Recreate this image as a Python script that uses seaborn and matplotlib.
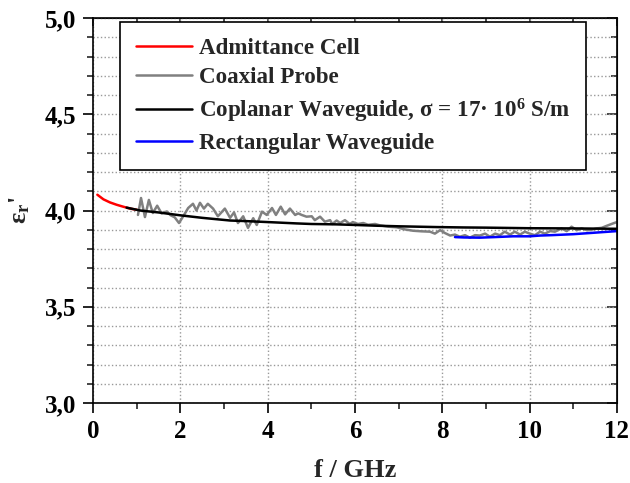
import matplotlib
matplotlib.use("Agg")
import matplotlib.pyplot as plt
import seaborn as sns
import pandas as pd
from matplotlib.ticker import MultipleLocator, FuncFormatter

# Admittance Cell
f_cell = [0.1, 0.24, 0.39, 0.54, 0.69, 0.85, 1.0]
eps_cell = [4.082, 4.058, 4.042, 4.03, 4.02, 4.01, 4.004]

# Coaxial Probe
f_coax = [1.03, 1.10, 1.19, 1.28, 1.37, 1.47, 1.57, 1.69, 1.78, 1.87, 1.97, 2.08,
          2.18, 2.29, 2.37, 2.45, 2.54, 2.63, 2.75, 2.86, 3.02, 3.14, 3.23, 3.32,
          3.44, 3.55, 3.67, 3.75, 3.87, 3.98, 4.10, 4.19, 4.30, 4.40, 4.51, 4.63,
          4.70, 4.78, 4.89, 5.01, 5.08, 5.20, 5.31, 5.43, 5.48, 5.58, 5.66, 5.77,
          5.88, 5.95, 6.07, 6.19, 6.30, 6.46, 6.57, 6.76, 6.95, 7.14, 7.33, 7.52,
          7.72, 7.83, 7.95, 8.06, 8.18, 8.29, 8.40, 8.52, 8.63, 8.75, 8.86, 8.98,
          9.09, 9.21, 9.32, 9.43, 9.55, 9.66, 9.78, 9.89, 10.0, 10.12, 10.24, 10.35,
          10.47, 10.58, 10.73, 10.85, 10.96, 11.08, 11.19, 11.31, 11.42, 11.53,
          11.65, 11.76, 11.91, 12.0]
eps_coax = [3.977, 4.065, 3.966, 4.055, 3.987, 4.025, 3.985, 3.995, 3.975, 3.965, 3.935, 3.975,
            4.013, 4.035, 4.00, 4.04, 4.01, 4.035, 4.01, 3.97, 4.01, 3.962, 3.99, 3.935,
            3.97, 3.91, 3.96, 3.925, 3.994, 3.977, 4.013, 3.977, 4.02, 3.98, 4.01, 3.977,
            3.985, 3.977, 3.968, 3.97, 3.95, 3.968, 3.942, 3.95, 3.93, 3.948, 3.935, 3.95,
            3.93, 3.94, 3.93, 3.935, 3.926, 3.93, 3.923, 3.916, 3.913, 3.902, 3.895, 3.892,
            3.89, 3.88, 3.898, 3.883, 3.87, 3.875, 3.864, 3.872, 3.859, 3.872, 3.87, 3.88,
            3.864, 3.88, 3.872, 3.89, 3.875, 3.89, 3.875, 3.89, 3.88, 3.872, 3.89, 3.88,
            3.893, 3.89, 3.907, 3.893, 3.916, 3.898, 3.907, 3.898, 3.90, 3.907,
            3.91, 3.92, 3.933, 3.94]

# Coplanar Waveguide
f_cpw = [0.77, 1.08, 1.5, 2.0, 2.5, 3.14, 3.5, 4.0, 4.66, 5.0, 5.58, 6.0, 6.5, 7.0,
         7.87, 8.5, 9.0, 10.0, 11.0, 12.0]
eps_cpw = [4.015, 4.0, 3.99, 3.975, 3.962, 3.948, 3.945, 3.94, 3.933, 3.93, 3.928, 3.925,
           3.921, 3.918, 3.914, 3.912, 3.911, 3.908, 3.907, 3.905]

# Rectangular Waveguide
f_rect = [8.29, 8.5, 8.86, 9.2, 9.62, 10.0, 10.24, 10.5, 11.0, 11.5, 12.0]
eps_rect = [3.862, 3.860, 3.859, 3.862, 3.866, 3.866, 3.870, 3.872, 3.877, 3.885, 3.893]

sns.set_style("ticks")
plt.rcParams["font.family"] = ["Liberation Serif", "DejaVu Serif"]
plt.rcParams["font.weight"] = "bold"
plt.rcParams["mathtext.default"] = "regular"

fig = plt.figure(figsize=(6.3, 4.83), dpi=100)
ax = fig.add_axes([0.1476, 0.1656, 0.8317, 0.7971])

lw = 1.8
sns.lineplot(x=f_cell, y=eps_cell, color="#ff0000", lw=lw, ax=ax,
             label="Admittance Cell", sort=False)
sns.lineplot(x=f_coax, y=eps_coax, color="#808080", lw=lw, ax=ax,
             label="Coaxial Probe", sort=False)
sns.lineplot(x=f_cpw, y=eps_cpw, color="black", lw=lw, ax=ax,
             label="Coplanar Waveguide, σ = 17· 10$^6$ S/m", sort=False)
sns.lineplot(x=f_rect, y=eps_rect, color="#0000ff", lw=lw, ax=ax,
             label="Rectangular Waveguide", sort=False)

ax.set_xlim(0, 12)
ax.set_ylim(3.0, 5.0)
ax.xaxis.set_major_locator(MultipleLocator(2))
ax.xaxis.set_minor_locator(MultipleLocator(1))
ax.yaxis.set_major_locator(MultipleLocator(0.5))
ax.yaxis.set_minor_locator(MultipleLocator(0.1))
ax.yaxis.set_major_formatter(FuncFormatter(lambda v, p: f"{v:.1f}".replace(".", ",")))

ax.grid(True, axis="x", which="major", color="#999999", ls=":", lw=1.0)
ax.grid(True, axis="y", which="both", color="#999999", ls=":", lw=1.0)

for s in ax.spines.values():
    s.set_visible(True)
    s.set_color("black")
    s.set_linewidth(1.2)

ax.tick_params(axis="both", which="major", labelsize=18, length=7, width=1.2,
               direction="out", colors="black", pad=5)
ax.tick_params(axis="both", which="minor", length=4, width=1.2, direction="out")
for lbl in ax.get_xticklabels() + ax.get_yticklabels():
    lbl.set_fontweight("bold")

# inward ticks on top and right
ax2 = ax.secondary_xaxis("top")
ax2.xaxis.set_major_locator(MultipleLocator(1))
ax2.tick_params(direction="in", length=6, width=1.2, labeltop=False)
ax2.set_xticklabels([])
ax3 = ax.secondary_yaxis("right")
ax3.yaxis.set_major_locator(MultipleLocator(0.5))
ax3.yaxis.set_minor_locator(MultipleLocator(0.1))
ax3.tick_params(which="major", direction="in", length=7, width=1.2)
ax3.tick_params(which="minor", direction="in", length=4, width=1.2)
ax3.set_yticklabels([])

ax.set_xlabel("f / GHz", fontsize=19, fontweight="bold", labelpad=12)
ax.set_ylabel("ε$_r$'", fontsize=19, fontweight="bold", labelpad=9)

leg = ax.legend(loc="upper left", bbox_to_anchor=(0.0515, 0.99), fontsize=16.6,
                frameon=True, fancybox=False, framealpha=1.0, handlelength=2.45,
                borderpad=0.68, labelspacing=0.36, handletextpad=0.3, borderaxespad=0)
leg.get_frame().set_edgecolor("black")
leg.get_frame().set_linewidth(1.2)
for t in leg.get_texts():
    t.set_fontweight("bold")

fig.savefig("out.png", dpi=100)
